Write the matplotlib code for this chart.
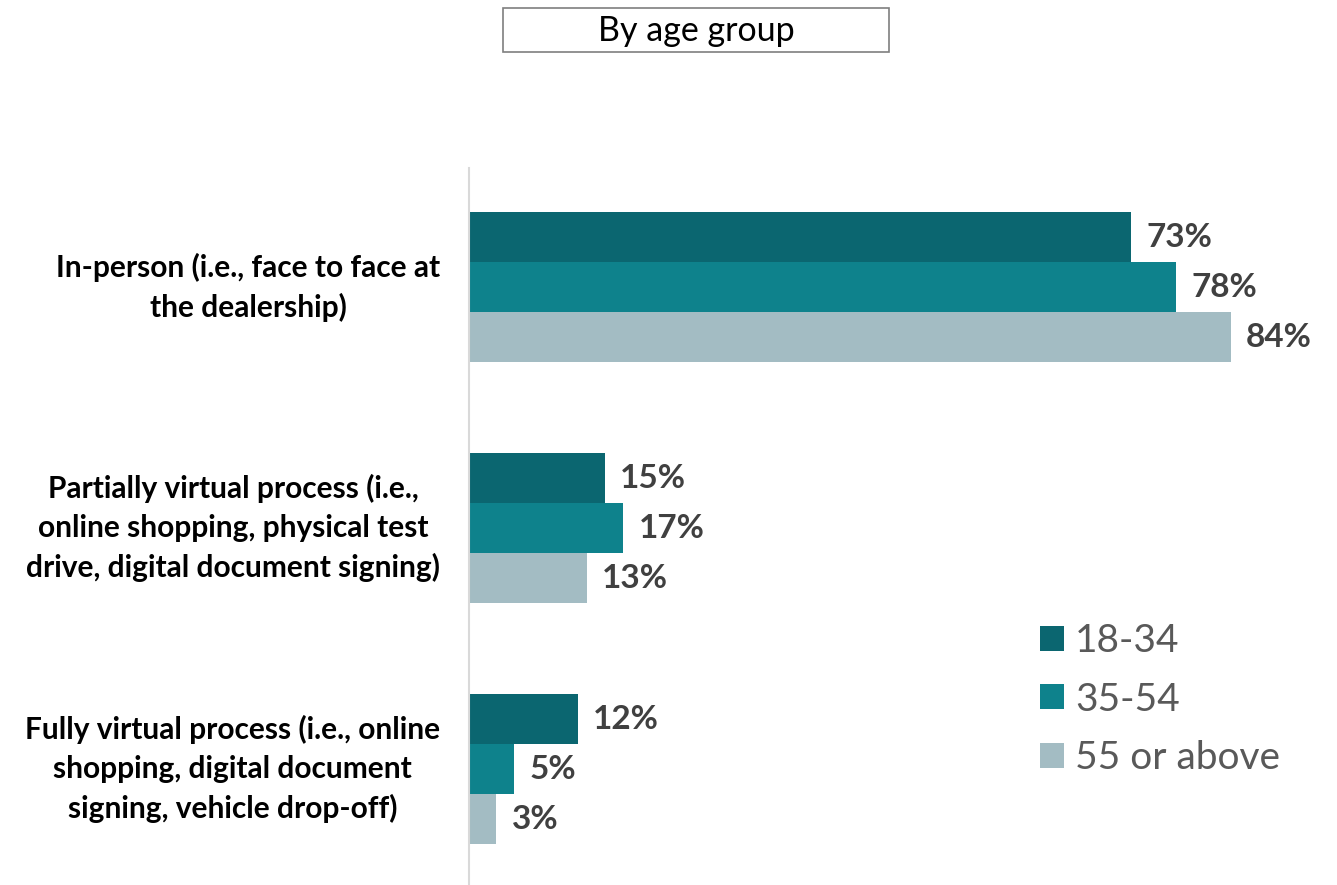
import numpy as np
import matplotlib.pyplot as plt
from matplotlib.patches import Patch, Rectangle

plt.rcParams['font.family'] = ['Lato', 'DejaVu Sans']

categories = [
    "In-person (i.e., face to face at\nthe dealership)",
    "Partially virtual process (i.e.,\nonline shopping, physical test\ndrive, digital document signing)",
    "Fully virtual process (i.e., online\nshopping, digital document\nsigning, vehicle drop-off)",
]
groups = ["18-34", "35-54", "55 or above"]
age_18_34 = [73, 15, 12]
age_35_54 = [78, 17, 5]
age_55_up = [84, 13, 3]
colors = ["#0B6670", "#0E828C", "#A3BCC3"]

W, H = 1337, 885
fig = plt.figure(figsize=(W / 100, H / 100), dpi=100)
ax = fig.add_axes([469 / W, 0.0, (1320 - 469) / W, 1 - 168 / H])

y = np.arange(len(categories))
h = 50 / 241
for k, (vals, c) in enumerate(zip([age_18_34, age_35_54, age_55_up], colors)):
    pos = y + (k - 1) * h
    ax.barh(pos, vals, height=h, color=c, edgecolor='none')
    for p, v in zip(pos, vals):
        ax.annotate(f"{v}%", (v, p), xytext=(11, 0), textcoords='offset points',
                    va='center', ha='left', fontsize=24, fontweight='bold',
                    color='#404040')

ax.set_xlim(0, (1320 - 469) / 9.07)
ax.set_ylim(2.481, -0.494)
for s in ['top', 'right', 'bottom']:
    ax.spines[s].set_visible(False)
ax.spines['left'].set_color('#D9D9D9')
ax.spines['left'].set_linewidth(1.5)
ax.set_xticks([])
ax.set_yticks([])

# category labels, centred text block sitting left of the axis
for yi, lab in zip(y, categories):
    ax.text(-29 / 9.07, yi, lab, ha='right', va='center', multialignment='center',
            fontsize=21.5, fontweight='bold', color='black', linespacing=1.45)

handles = [Patch(facecolor=c, edgecolor='none') for c in colors]
fig.legend(handles, groups, loc='upper left', bbox_to_anchor=(1005 / W, 1 - 588 / H),
           frameon=False, fontsize=28, labelcolor='#595959', handlelength=0.62,
           handleheight=0.62, handletextpad=0.28, labelspacing=0.58)

# boxed heading
fig.add_artist(Rectangle((503 / W, 1 - 52 / H), (889 - 503) / W, 44 / H,
                         transform=fig.transFigure, facecolor='white',
                         edgecolor='#7F7F7F', linewidth=1.2))
fig.text(696 / W, 1 - 31 / H, "By age group", ha='center', va='center',
         fontsize=24.5, color='black')

fig.savefig('out.png', dpi=100)
